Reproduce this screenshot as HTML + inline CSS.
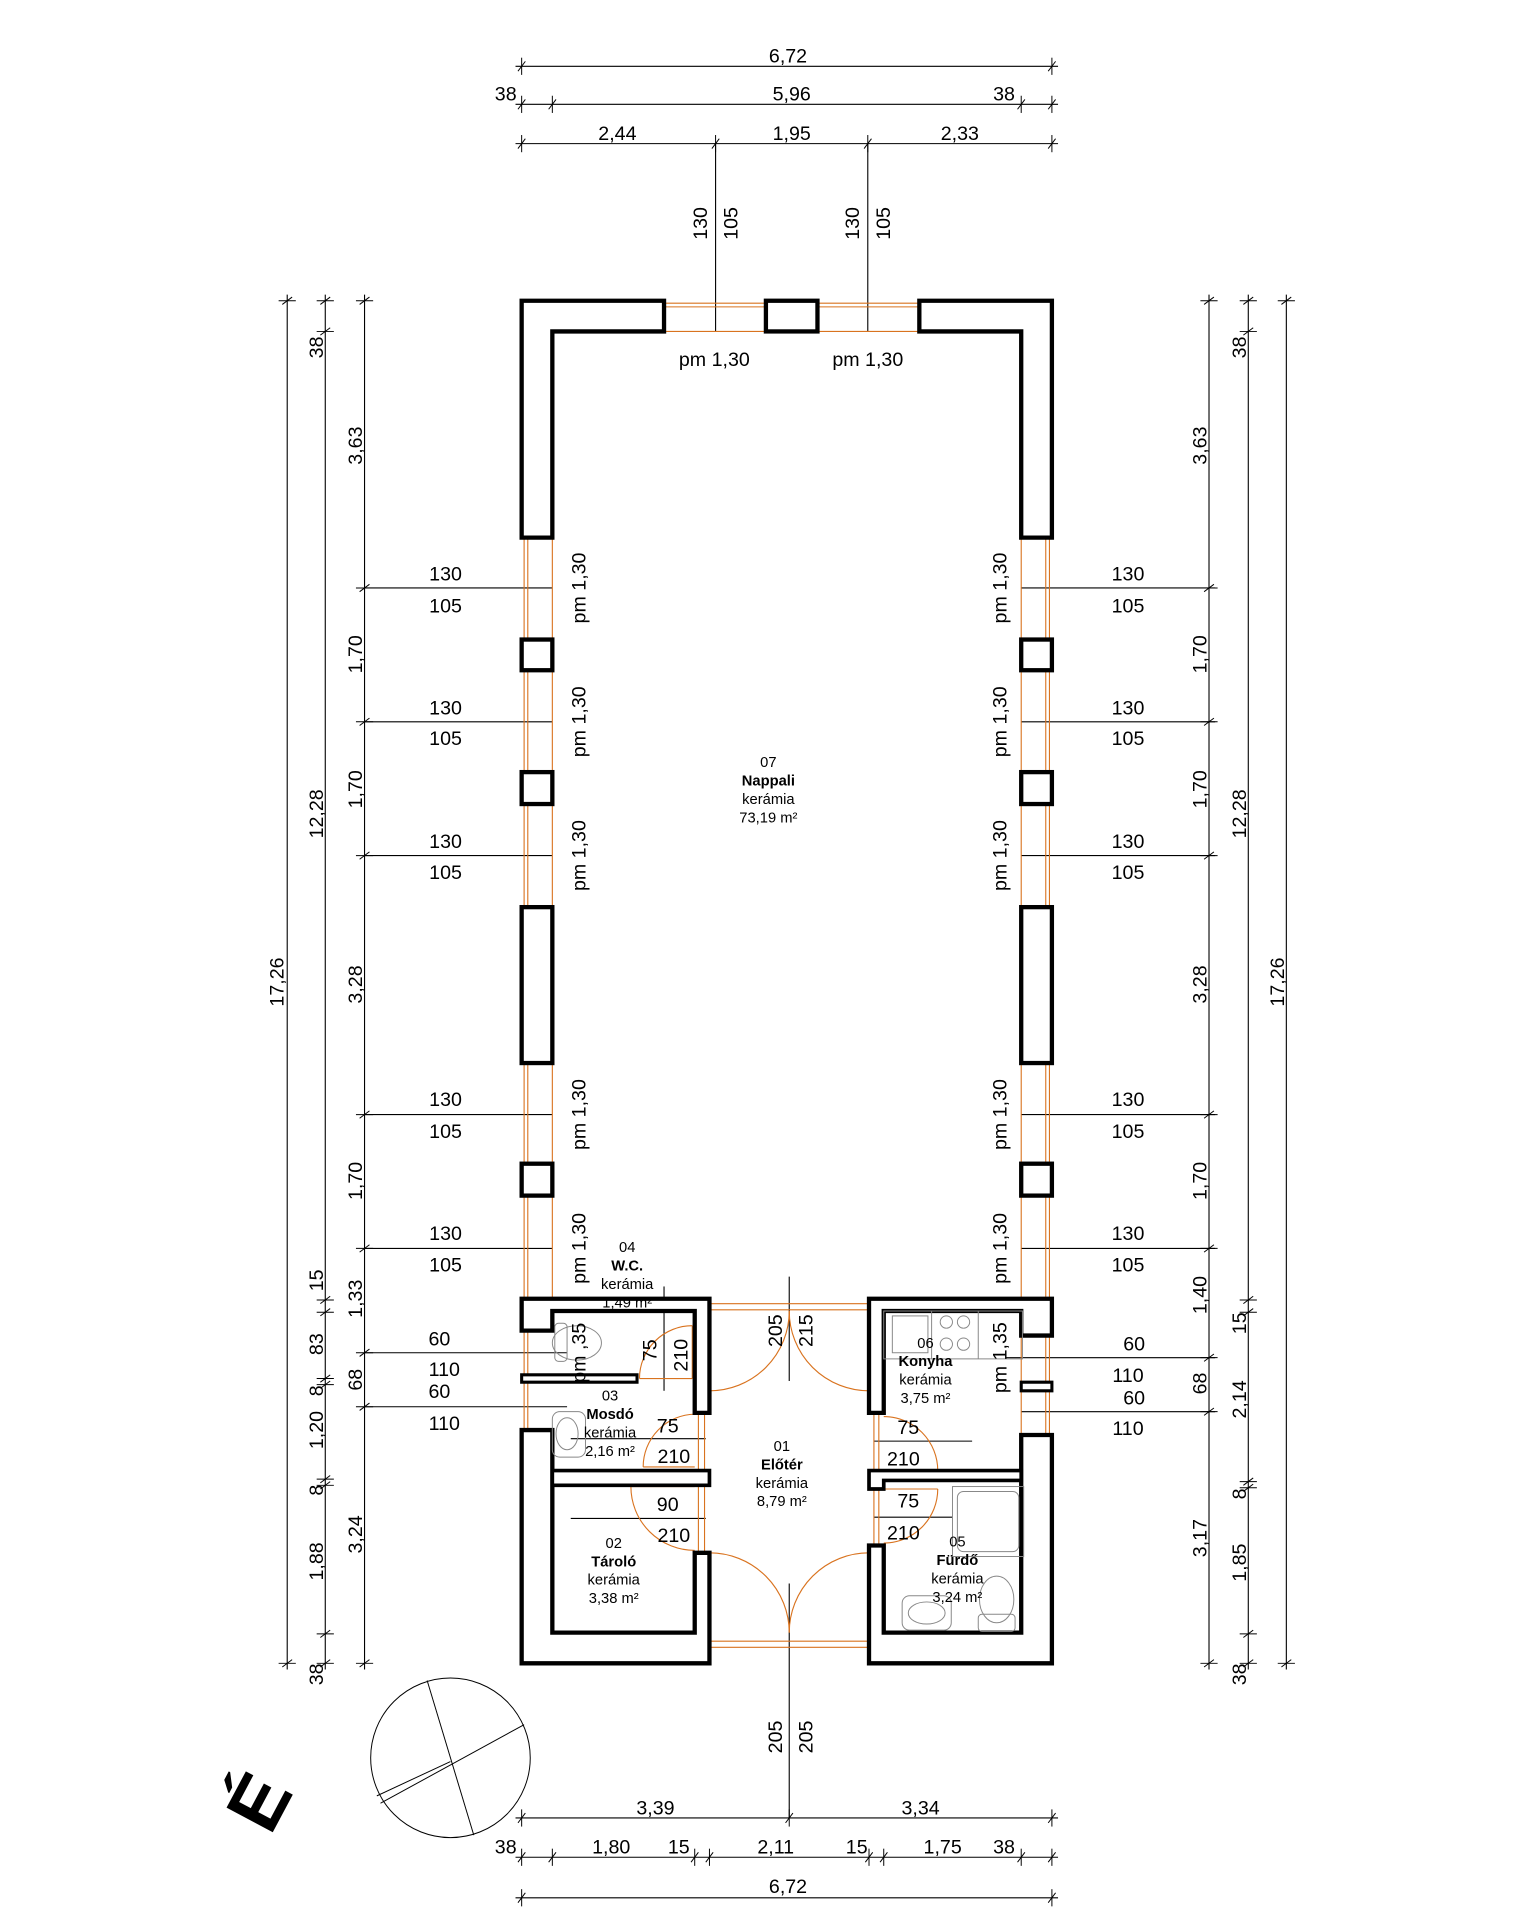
<!DOCTYPE html>
<html><head><meta charset="utf-8"><style>
html,body{margin:0;padding:0;background:#fff}
svg{display:block}
text{font-family:"Liberation Sans",sans-serif;fill:#000}
.d{font-size:16px}
.r{font-size:12px;text-anchor:middle}
.b{font-weight:bold}
</style></head><body>
<svg width="1522" height="1926" viewBox="0 0 1240 1569" preserveAspectRatio="none" xmlns="http://www.w3.org/2000/svg">
<defs>
<g id="th"><line x1="0" y1="-7" x2="0" y2="7" stroke="#000" stroke-width="0.8"/><line x1="-3" y1="4" x2="3" y2="-4" stroke="#000" stroke-width="0.8"/></g>
<g id="tv"><line x1="-7" y1="0" x2="7" y2="0" stroke="#000" stroke-width="0.8"/><line x1="-4" y1="3" x2="4" y2="-3" stroke="#000" stroke-width="0.8"/></g>
</defs>
<g stroke="#000" stroke-width="0.9" fill="none">
<!-- top dims -->
<line x1="420" y1="54" x2="862" y2="54"/><line x1="420" y1="85" x2="862" y2="85"/><line x1="420" y1="117" x2="862" y2="117"/>
<line x1="583" y1="117" x2="583" y2="270"/><line x1="707" y1="117" x2="707" y2="270"/>
<!-- bottom dims -->
<line x1="420" y1="1481" x2="862" y2="1481"/><line x1="420" y1="1513" x2="862" y2="1513"/><line x1="420" y1="1546" x2="862" y2="1546"/>
<line x1="643" y1="1290" x2="643" y2="1481"/><line x1="643" y1="1040" x2="643" y2="1125"/>
<!-- left chains -->
<line x1="234" y1="240" x2="234" y2="1360"/><line x1="265" y1="240" x2="265" y2="1360"/><line x1="297" y1="240" x2="297" y2="1360"/>
<line x1="985" y1="240" x2="985" y2="1360"/><line x1="1017" y1="240" x2="1017" y2="1360"/><line x1="1048" y1="240" x2="1048" y2="1360"/>
<!-- window dims -->
<line x1="297" y1="479" x2="450" y2="479"/><line x1="297" y1="588" x2="450" y2="588"/><line x1="297" y1="697" x2="450" y2="697"/><line x1="297" y1="908" x2="450" y2="908"/><line x1="297" y1="1017" x2="450" y2="1017"/>
<line x1="832" y1="479" x2="990" y2="479"/><line x1="832" y1="588" x2="990" y2="588"/><line x1="832" y1="697" x2="990" y2="697"/><line x1="832" y1="908" x2="990" y2="908"/><line x1="832" y1="1017" x2="990" y2="1017"/>
<line x1="297" y1="1102" x2="462" y2="1102"/><line x1="297" y1="1146" x2="462" y2="1146"/>
<line x1="820" y1="1106" x2="990" y2="1106"/><line x1="832" y1="1150" x2="990" y2="1150"/>
<!-- door dim lines -->
<line x1="541" y1="1048" x2="541" y2="1133"/>
<line x1="465" y1="1172" x2="575" y2="1172"/><line x1="465" y1="1237" x2="575" y2="1237"/>
<line x1="712" y1="1174" x2="792" y2="1174"/><line x1="712" y1="1236" x2="776" y2="1236"/>
</g>
<!-- ticks horizontal -->
<use href="#th" x="425" y="54"/><use href="#th" x="857" y="54"/>
<use href="#th" x="425" y="85"/><use href="#th" x="450" y="85"/><use href="#th" x="832" y="85"/><use href="#th" x="857" y="85"/>
<use href="#th" x="425" y="117"/><use href="#th" x="583" y="117"/><use href="#th" x="707" y="117"/><use href="#th" x="857" y="117"/>
<use href="#th" x="425" y="1481"/><use href="#th" x="643" y="1481"/><use href="#th" x="857" y="1481"/>
<use href="#th" x="425" y="1513"/><use href="#th" x="450" y="1513"/><use href="#th" x="566" y="1513"/><use href="#th" x="578" y="1513"/><use href="#th" x="708" y="1513"/><use href="#th" x="720" y="1513"/><use href="#th" x="832" y="1513"/><use href="#th" x="857" y="1513"/>
<use href="#th" x="425" y="1546"/><use href="#th" x="857" y="1546"/>
<!-- ticks vertical -->
<use href="#tv" x="234" y="245"/><use href="#tv" x="234" y="1355"/>
<use href="#tv" x="265" y="245"/><use href="#tv" x="265" y="270"/><use href="#tv" x="265" y="1059"/><use href="#tv" x="265" y="1069"/><use href="#tv" x="265" y="1123"/><use href="#tv" x="265" y="1128"/><use href="#tv" x="265" y="1205"/><use href="#tv" x="265" y="1210"/><use href="#tv" x="265" y="1331"/><use href="#tv" x="265" y="1355"/>
<use href="#tv" x="297" y="245"/><use href="#tv" x="297" y="479"/><use href="#tv" x="297" y="588"/><use href="#tv" x="297" y="697"/><use href="#tv" x="297" y="908"/><use href="#tv" x="297" y="1017"/><use href="#tv" x="297" y="1102"/><use href="#tv" x="297" y="1146"/><use href="#tv" x="297" y="1355"/>
<use href="#tv" x="1048" y="245"/><use href="#tv" x="1048" y="1355"/>
<use href="#tv" x="1017" y="245"/><use href="#tv" x="1017" y="270"/><use href="#tv" x="1017" y="1059"/><use href="#tv" x="1017" y="1069"/><use href="#tv" x="1017" y="1207"/><use href="#tv" x="1017" y="1212"/><use href="#tv" x="1017" y="1331"/><use href="#tv" x="1017" y="1355"/>
<use href="#tv" x="985" y="245"/><use href="#tv" x="985" y="479"/><use href="#tv" x="985" y="588"/><use href="#tv" x="985" y="697"/><use href="#tv" x="985" y="908"/><use href="#tv" x="985" y="1017"/><use href="#tv" x="985" y="1106"/><use href="#tv" x="985" y="1150"/><use href="#tv" x="985" y="1355"/>

<!-- windows (orange) -->
<g stroke="#d9731f" stroke-width="0.9" fill="none">
<line x1="541" y1="247" x2="624" y2="247"/><line x1="541" y1="250" x2="624" y2="250"/><line x1="541" y1="270" x2="624" y2="270"/>
<line x1="666" y1="247" x2="749" y2="247"/><line x1="666" y1="250" x2="749" y2="250"/><line x1="666" y1="270" x2="749" y2="270"/>
<line x1="427" y1="438" x2="427" y2="1057"/><line x1="430" y1="438" x2="430" y2="1057"/><line x1="450" y1="438" x2="450" y2="1057"/>
<line x1="855" y1="438" x2="855" y2="1057"/><line x1="852" y1="438" x2="852" y2="1057"/><line x1="832" y1="438" x2="832" y2="1057"/>
<line x1="427" y1="1084" x2="427" y2="1165"/><line x1="430" y1="1084" x2="430" y2="1165"/>
<line x1="855" y1="1088" x2="855" y2="1169"/><line x1="852" y1="1088" x2="852" y2="1169"/><line x1="832" y1="1088" x2="832" y2="1169"/>
<!-- entrance thresholds -->
<line x1="578" y1="1062" x2="708" y2="1062"/><line x1="578" y1="1067" x2="708" y2="1067"/>
<line x1="578" y1="1337" x2="708" y2="1337"/><line x1="578" y1="1342" x2="708" y2="1342"/>
<line x1="569" y1="1151" x2="569" y2="1265"/><line x1="574" y1="1151" x2="574" y2="1265"/>
<line x1="712" y1="1151" x2="712" y2="1259"/><line x1="716" y1="1151" x2="716" y2="1259"/>
<!-- doors -->
<line x1="578" y1="1068" x2="578" y2="1133"/><path d="M578 1133 A65 65 0 0 0 643 1068"/>
<line x1="708" y1="1068" x2="708" y2="1133"/><path d="M708 1133 A65 65 0 0 1 643 1068"/>
<line x1="578" y1="1330" x2="578" y2="1265"/><path d="M578 1265 A65 65 0 0 1 643 1330"/>
<line x1="708" y1="1330" x2="708" y2="1265"/><path d="M708 1265 A65 65 0 0 0 643 1330"/>
<line x1="564" y1="1123" x2="564" y2="1080"/><line x1="521" y1="1123" x2="564" y2="1123"/><path d="M564 1080 A43 43 0 0 0 521 1123"/>
<line x1="524" y1="1195" x2="566" y2="1195"/><path d="M524 1195 A43 43 0 0 1 566 1152"/>
<line x1="514" y1="1211" x2="566" y2="1211"/><path d="M514 1211 A52 52 0 0 0 566 1263"/>
<line x1="720" y1="1198" x2="764" y2="1198"/><path d="M764 1198 A44 44 0 0 0 720 1154"/>
<line x1="720" y1="1213" x2="764" y2="1213"/><path d="M764 1213 A44 44 0 0 1 720 1257"/>
</g>
<!-- walls -->
<g fill="#fff" stroke="#000" stroke-width="3.5" stroke-linejoin="miter">
<path d="M425 245 H541 V270 H450 V438 H425 Z"/>
<path d="M857 245 H749 V270 H832 V438 H857 Z"/>
<rect x="624" y="245" width="42" height="25"/>
<rect x="425" y="521" width="25" height="25"/><rect x="425" y="629" width="25" height="26"/><rect x="425" y="739" width="25" height="127"/><rect x="425" y="948" width="25" height="26"/>
<rect x="832" y="521" width="25" height="25"/><rect x="832" y="629" width="25" height="26"/><rect x="832" y="739" width="25" height="127"/><rect x="832" y="948" width="25" height="26"/>
<!-- left lower block -->
<path d="M425 1058 H578 V1151 H566 V1068 H450 V1084 H425 Z"/>
<path d="M425 1120 H519 V1126 H425 Z" stroke-width="2.5"/>
<path d="M425 1165 H450 V1330 H566 V1265 H578 V1355 H425 Z"/>
<path d="M450 1198 H578 V1210 H450 Z" stroke-width="3"/>
<!-- right lower block -->
<path d="M708 1058 H857 V1088 H832 V1068 H720 V1151 H708 Z"/>
<path d="M832 1126 H857 V1133 H832 Z" stroke-width="2.5"/>
<path d="M857 1169 V1355 H708 V1259 H720 V1330 H832 V1169 Z"/>
<path d="M708 1198 H832 V1206 H720 V1213 H708 Z" stroke-width="3"/>
</g>
<!-- fixtures -->
<g fill="none" stroke="#888" stroke-width="0.8">
<rect x="720" y="1068" width="113" height="39"/><line x1="759" y1="1068" x2="759" y2="1107"/><line x1="797" y1="1068" x2="797" y2="1107"/>
<rect x="727" y="1072" width="29" height="30"/>
<circle cx="771" cy="1077" r="5"/><circle cx="785" cy="1077" r="5"/><circle cx="771" cy="1095" r="5"/><circle cx="785" cy="1095" r="5"/>
<rect x="776" y="1211" width="58" height="57"/><rect x="780" y="1215" width="50" height="49" rx="5"/>
<ellipse cx="470" cy="1094" rx="20" ry="14"/><rect x="452" y="1078" width="10" height="31" rx="3"/>
<rect x="450" y="1150" width="27" height="37" rx="6"/><ellipse cx="462" cy="1168" rx="9" ry="13"/>
<rect x="735" y="1300" width="40" height="28" rx="6"/><ellipse cx="755" cy="1314" rx="15" ry="9"/>
<ellipse cx="812" cy="1303" rx="14" ry="19"/><rect x="797" y="1315" width="30" height="14" rx="3"/>
</g>
<!-- compass -->
<g fill="none" stroke="#000" stroke-width="0.8">
<circle cx="367" cy="1432" r="65"/>
<line x1="348" y1="1369" x2="386" y2="1495"/>
<line x1="427" y1="1405" x2="310" y2="1469"/><line x1="367" y1="1435" x2="307" y2="1463"/>
</g>
<text transform="translate(230,1478) rotate(-62)" style="font-size:62px;font-weight:bold;text-anchor:middle">É</text>

<!-- dimension texts -->
<g class="d">
<text x="642" y="51" text-anchor="middle">6,72</text>
<text x="412" y="82" text-anchor="middle">38</text><text x="645" y="82" text-anchor="middle">5,96</text><text x="818" y="82" text-anchor="middle">38</text>
<text x="503" y="114" text-anchor="middle">2,44</text><text x="645" y="114" text-anchor="middle">1,95</text><text x="782" y="114" text-anchor="middle">2,33</text>
<text transform="translate(576,182) rotate(-90)" text-anchor="middle">130</text><text transform="translate(601,182) rotate(-90)" text-anchor="middle">105</text>
<text transform="translate(700,182) rotate(-90)" text-anchor="middle">130</text><text transform="translate(725,182) rotate(-90)" text-anchor="middle">105</text>
<text x="582" y="298" text-anchor="middle">pm 1,30</text><text x="707" y="298" text-anchor="middle">pm 1,30</text>
<text x="534" y="1478" text-anchor="middle">3,39</text><text x="750" y="1478" text-anchor="middle">3,34</text>
<text x="412" y="1510" text-anchor="middle">38</text><text x="498" y="1510" text-anchor="middle">1,80</text><text x="553" y="1510" text-anchor="middle">15</text><text x="632" y="1510" text-anchor="middle">2,11</text><text x="698" y="1510" text-anchor="middle">15</text><text x="768" y="1510" text-anchor="middle">1,75</text><text x="818" y="1510" text-anchor="middle">38</text>
<text x="642" y="1542" text-anchor="middle">6,72</text>
<text transform="translate(637,1415) rotate(-90)" text-anchor="middle">205</text><text transform="translate(662,1415) rotate(-90)" text-anchor="middle">205</text>
<text transform="translate(637,1084) rotate(-90)" text-anchor="middle">205</text><text transform="translate(662,1084) rotate(-90)" text-anchor="middle">215</text>
<!-- left chain texts -->
<text transform="translate(231,800) rotate(-90)" text-anchor="middle">17,26</text>
<text transform="translate(263,283) rotate(-90)" text-anchor="middle">38</text>
<text transform="translate(263,663) rotate(-90)" text-anchor="middle">12,28</text>
<text transform="translate(263,1043) rotate(-90)" text-anchor="middle">15</text>
<text transform="translate(263,1095) rotate(-90)" text-anchor="middle">83</text>
<text transform="translate(263,1133) rotate(-90)" text-anchor="middle">8</text>
<text transform="translate(263,1165) rotate(-90)" text-anchor="middle">1,20</text>
<text transform="translate(263,1214) rotate(-90)" text-anchor="middle">8</text>
<text transform="translate(263,1272) rotate(-90)" text-anchor="middle">1,88</text>
<text transform="translate(263,1364) rotate(-90)" text-anchor="middle">38</text>
<text transform="translate(295,363) rotate(-90)" text-anchor="middle">3,63</text>
<text transform="translate(295,533) rotate(-90)" text-anchor="middle">1,70</text>
<text transform="translate(295,643) rotate(-90)" text-anchor="middle">1,70</text>
<text transform="translate(295,802) rotate(-90)" text-anchor="middle">3,28</text>
<text transform="translate(295,962) rotate(-90)" text-anchor="middle">1,70</text>
<text transform="translate(295,1058) rotate(-90)" text-anchor="middle">1,33</text>
<text transform="translate(295,1124) rotate(-90)" text-anchor="middle">68</text>
<text transform="translate(295,1250) rotate(-90)" text-anchor="middle">3,24</text>
<!-- right chain texts -->
<text transform="translate(1046,800) rotate(-90)" text-anchor="middle">17,26</text>
<text transform="translate(1015,283) rotate(-90)" text-anchor="middle">38</text>
<text transform="translate(1015,663) rotate(-90)" text-anchor="middle">12,28</text>
<text transform="translate(1015,1078) rotate(-90)" text-anchor="middle">15</text>
<text transform="translate(1015,1140) rotate(-90)" text-anchor="middle">2,14</text>
<text transform="translate(1015,1217) rotate(-90)" text-anchor="middle">8</text>
<text transform="translate(1015,1273) rotate(-90)" text-anchor="middle">1,85</text>
<text transform="translate(1015,1364) rotate(-90)" text-anchor="middle">38</text>
<text transform="translate(983,363) rotate(-90)" text-anchor="middle">3,63</text>
<text transform="translate(983,533) rotate(-90)" text-anchor="middle">1,70</text>
<text transform="translate(983,643) rotate(-90)" text-anchor="middle">1,70</text>
<text transform="translate(983,802) rotate(-90)" text-anchor="middle">3,28</text>
<text transform="translate(983,962) rotate(-90)" text-anchor="middle">1,70</text>
<text transform="translate(983,1055) rotate(-90)" text-anchor="middle">1,40</text>
<text transform="translate(983,1127) rotate(-90)" text-anchor="middle">68</text>
<text transform="translate(983,1253) rotate(-90)" text-anchor="middle">3,17</text>
<!-- window texts left -->
<text x="363" y="473" text-anchor="middle">130</text><text x="363" y="499" text-anchor="middle">105</text>
<text x="363" y="582" text-anchor="middle">130</text><text x="363" y="607" text-anchor="middle">105</text>
<text x="363" y="691" text-anchor="middle">130</text><text x="363" y="716" text-anchor="middle">105</text>
<text x="363" y="901" text-anchor="middle">130</text><text x="363" y="927" text-anchor="middle">105</text>
<text x="363" y="1010" text-anchor="middle">130</text><text x="363" y="1036" text-anchor="middle">105</text>
<text x="358" y="1096" text-anchor="middle">60</text><text x="362" y="1121" text-anchor="middle">110</text>
<text x="358" y="1139" text-anchor="middle">60</text><text x="362" y="1165" text-anchor="middle">110</text>
<text x="919" y="473" text-anchor="middle">130</text><text x="919" y="499" text-anchor="middle">105</text>
<text x="919" y="582" text-anchor="middle">130</text><text x="919" y="607" text-anchor="middle">105</text>
<text x="919" y="691" text-anchor="middle">130</text><text x="919" y="716" text-anchor="middle">105</text>
<text x="919" y="901" text-anchor="middle">130</text><text x="919" y="927" text-anchor="middle">105</text>
<text x="919" y="1010" text-anchor="middle">130</text><text x="919" y="1036" text-anchor="middle">105</text>
<text x="924" y="1100" text-anchor="middle">60</text><text x="919" y="1126" text-anchor="middle">110</text>
<text x="924" y="1144" text-anchor="middle">60</text><text x="919" y="1169" text-anchor="middle">110</text>
<!-- pm labels -->
<text transform="translate(477,479) rotate(-90)" text-anchor="middle">pm 1,30</text>
<text transform="translate(477,588) rotate(-90)" text-anchor="middle">pm 1,30</text>
<text transform="translate(477,697) rotate(-90)" text-anchor="middle">pm 1,30</text>
<text transform="translate(477,908) rotate(-90)" text-anchor="middle">pm 1,30</text>
<text transform="translate(477,1017) rotate(-90)" text-anchor="middle">pm 1,30</text>
<text transform="translate(820,479) rotate(-90)" text-anchor="middle">pm 1,30</text>
<text transform="translate(820,588) rotate(-90)" text-anchor="middle">pm 1,30</text>
<text transform="translate(820,697) rotate(-90)" text-anchor="middle">pm 1,30</text>
<text transform="translate(820,908) rotate(-90)" text-anchor="middle">pm 1,30</text>
<text transform="translate(820,1017) rotate(-90)" text-anchor="middle">pm 1,30</text>
<text transform="translate(477,1102) rotate(-90)" text-anchor="middle">pm ,35</text>
<text transform="translate(820,1106) rotate(-90)" text-anchor="middle">pm 1,35</text>
<!-- door labels -->
<text transform="translate(535,1100) rotate(-90)" text-anchor="middle">75</text>
<text transform="translate(560,1104) rotate(-90)" text-anchor="middle">210</text>
<text x="544" y="1167" text-anchor="middle">75</text><text x="549" y="1192" text-anchor="middle">210</text>
<text x="544" y="1231" text-anchor="middle">90</text><text x="549" y="1256" text-anchor="middle">210</text>
<text x="740" y="1168" text-anchor="middle">75</text><text x="736" y="1194" text-anchor="middle">210</text>
<text x="740" y="1228" text-anchor="middle">75</text><text x="736" y="1254" text-anchor="middle">210</text>
</g>
<!-- room labels -->
<g class="r">
<text x="626" y="625">07</text><text x="626" y="640" class="b">Nappali</text><text x="626" y="655">kerámia</text><text x="626" y="670">73,19 m²</text>
<text x="511" y="1020">04</text><text x="511" y="1035" class="b">W.C.</text><text x="511" y="1050">kerámia</text><text x="511" y="1065">1,49 m²</text>
<text x="497" y="1141">03</text><text x="497" y="1156" class="b">Mosdó</text><text x="497" y="1171">kerámia</text><text x="497" y="1186">2,16 m²</text>
<text x="637" y="1182">01</text><text x="637" y="1197" class="b">Előtér</text><text x="637" y="1212">kerámia</text><text x="637" y="1227">8,79 m²</text>
<text x="500" y="1261">02</text><text x="500" y="1276" class="b">Tároló</text><text x="500" y="1291">kerámia</text><text x="500" y="1306">3,38 m²</text>
<text x="754" y="1098">06</text><text x="754" y="1113" class="b">Konyha</text><text x="754" y="1128">kerámia</text><text x="754" y="1143">3,75 m²</text>
<text x="780" y="1260">05</text><text x="780" y="1275" class="b">Fürdő</text><text x="780" y="1290">kerámia</text><text x="780" y="1305">3,24 m²</text>
</g>
</svg>
</body></html>
